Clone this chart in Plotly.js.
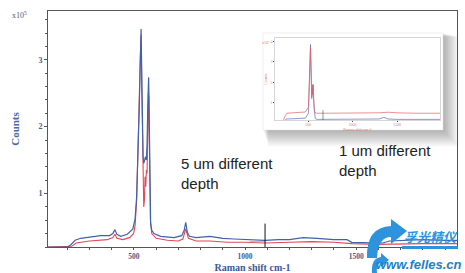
<!DOCTYPE html>
<html><head><meta charset="utf-8">
<script src="https://cdn.plot.ly/plotly-3.0.1.min.js"></script>
<style>html,body{margin:0;padding:0;background:#fff;overflow:hidden}#chart{width:465px;height:273px}</style>
</head><body><div id="chart"></div>
<script>
// ---- main chart data (counts in units of 1e5) ----
const shift5Blue = [113,200,215,235,260,300,350,390,405,414,423,440,470,495,505,512,518,523,528,532,535,538,541,544,548,552,556,559,562,564,566,568,570,572,575,580,590,620,680,715,726,733,740,750,780,842,900,950,1000,1050,1090,1150,1200,1261,1300,1324,1400,1459,1480,1550,1620,1650,1700,1800,1900,1954];
const counts5Blue = [0.2,0.2,0.23,0.3,0.33,0.35,0.37,0.37,0.4,0.46,0.39,0.36,0.39,0.47,0.62,0.95,1.5,2.2,2.9,3.46,2.8,2.0,1.55,1.45,1.5,1.55,1.5,1.75,2.3,2.6,2.74,2.3,1.5,0.9,0.55,0.45,0.4,0.36,0.34,0.37,0.45,0.57,0.42,0.36,0.34,0.36,0.33,0.32,0.31,0.3,0.3,0.31,0.31,0.34,0.34,0.33,0.31,0.31,0.27,0.26,0.26,0.29,0.3,0.31,0.3,0.3];
const shift5Red = [113,205,220,240,300,380,405,414,423,450,480,498,505,512,518,523,528,532,535,538,541,544,547,550,553,556,559,562,565,567,569,571,574,580,600,650,700,720,733,745,780,842,920,1000,1090,1200,1300,1400,1480,1600,1700,1800,1954];
const counts5Red = [0.2,0.2,0.21,0.26,0.29,0.31,0.34,0.39,0.33,0.31,0.34,0.4,0.52,0.9,1.5,2.3,3.0,3.38,2.6,1.7,1.0,0.8,0.9,1.25,1.1,1.35,1.3,2.0,2.5,2.45,1.8,1.1,0.6,0.4,0.33,0.3,0.29,0.32,0.47,0.33,0.29,0.29,0.27,0.27,0.26,0.27,0.28,0.27,0.25,0.24,0.25,0.25,0.25];
const shiftMarker = [1020,1090];
const countsMarker = [0.28,0.28];
const cursorShift = [1090];

// ---- inset (1 um depth) data ----
const shift1Blue = [129,220,240,262,330,400,470,505,515,522,528,532,537,542,550,558,563,570,580,600,700,850,1000,1150,1300,1350,1400,1500,1700,1983];
const counts1Blue = [0.1,0.1,0.15,0.22,0.23,0.24,0.26,0.5,1.5,3.0,3.85,3.2,1.6,1.3,1.5,1.9,1.2,0.5,0.25,0.2,0.2,0.2,0.2,0.21,0.22,0.3,0.22,0.2,0.2,0.2];
const shift1Red = [129,220,240,262,330,400,470,505,515,522,528,532,536,539,542,545,548,552,556,560,565,570,580,600,700,850,1000,1150,1300,1400,1500,1700,1983];
const counts1Red = [0.1,0.1,0.35,0.5,0.52,0.53,0.56,0.8,1.8,3.0,3.7,3.0,1.5,1.9,1.2,1.8,1.4,1.9,1.6,1.7,1.0,0.6,0.52,0.5,0.5,0.5,0.5,0.5,0.52,0.55,0.52,0.5,0.5];
const insetCursor = [668];

const xTickStep = 500, xMinorStep = 100, yTickStep = 1, yMinorStep = 0.2;

// pixel -> paper helpers for decorations
const W=465,H=273,ML=48,MR=8,MT=11,MB=26;
const PW=W-ML-MR, PH=H-MT-MB;
const px = X => (X-ML)/PW;
const py = Y => (H-MB-Y)/PH;

const BLUE='#3f62aa', RED='#de4a55';
const traces = [
  {x:shift5Red,y:counts5Red,type:'scatter',mode:'lines',line:{color:RED,width:1.1},hoverinfo:'skip'},
  {x:shift5Blue,y:counts5Blue,type:'scatter',mode:'lines',line:{color:BLUE,width:1.2},hoverinfo:'skip'},
  {x:shiftMarker,y:countsMarker,type:'scatter',mode:'lines',line:{color:'#f0b040',width:1},hoverinfo:'skip'},
  {x:shift1Blue,y:counts1Blue,xaxis:'x2',yaxis:'y2',type:'scatter',mode:'lines',line:{color:'#5a6fb0',width:0.7},hoverinfo:'skip'},
  {x:shift1Red,y:counts1Red,xaxis:'x2',yaxis:'y2',type:'scatter',mode:'lines',line:{color:'#e0606a',width:0.7},hoverinfo:'skip'}
];

const shapes=[];
// inset drop shadow
for(let i=1;i<=9;i++){
  shapes.push({type:'rect',xref:'paper',yref:'paper',layer:'below',
    x0:px(263+i*0.6),x1:px(443+i*1.7),y0:py(130+i*1.8),y1:py(33+i*0.4),
    line:{width:0},fillcolor:'rgba(0,0,0,0.035)'});
}
shapes.push({type:'rect',xref:'paper',yref:'paper',layer:'below',
  x0:px(263),x1:px(443),y0:py(130),y1:py(33),line:{width:0.5,color:'#ddd'},fillcolor:'#fff'});
// cursor lines
shapes.push({type:'line',xref:'x',yref:'y',x0:cursorShift[0],x1:cursorShift[0],y0:0.2,y1:0.55,line:{color:'#111',width:1}});
shapes.push({type:'line',xref:'x2',yref:'y2',x0:insetCursor[0],x1:insetCursor[0],y0:0.17,y1:0.65,line:{color:'#333',width:0.5}});
// logo
const P=(X,Y)=>px(X).toFixed(4)+','+py(Y).toFixed(4);
shapes.push({type:'path',xref:'paper',yref:'paper',line:{width:0},fillcolor:'#2e93dd',
  path:`M${P(367,258)} Q${P(366,227)} ${P(391,226)} L${P(391,219)} L${P(407,231)} L${P(391,244)} L${P(391,237)} Q${P(378,237)} ${P(377,258)} Z`});
shapes.push({type:'path',xref:'paper',yref:'paper',line:{width:0},fillcolor:'#2e93dd',
  path:`M${P(372,273)} Q${P(371,258)} ${P(381,257)} L${P(381,253)} L${P(389,260)} L${P(381,267)} L${P(381,263)} Q${P(376,263)} ${P(377,273)} Z`});
shapes.push({type:'rect',xref:'paper',yref:'paper',x0:px(402),x1:px(458),y0:py(249),y1:py(246),line:{width:0},fillcolor:'#2e93dd'});

const serif='Liberation Serif, DejaVu Serif, serif';
const annotations=[
  {xref:'paper',yref:'paper',x:px(10),y:py(15),xanchor:'left',yanchor:'middle',showarrow:false,
   text:'x10<sup>5</sup>',font:{family:serif,size:8,color:'#4a5a8a'}},
  {xref:'paper',yref:'paper',x:px(179),y:py(174),xanchor:'left',yanchor:'middle',align:'left',showarrow:false,
   text:'5 um different<br>depth',font:{family:'Liberation Sans, Arial, sans-serif',size:15,color:'#222'}},
  {xref:'paper',yref:'paper',x:px(337),y:py(160),xanchor:'left',yanchor:'middle',align:'left',showarrow:false,
   text:'1 um different<br>depth',font:{family:'Liberation Sans, Arial, sans-serif',size:15,color:'#222'}},
  {xref:'paper',yref:'paper',x:px(431),y:py(236),xanchor:'center',yanchor:'middle',showarrow:false,
   text:'<b><i>孚光精仪</i></b>',font:{family:'Noto Sans CJK SC, sans-serif',size:13,color:'#2e93dd'}},
  {xref:'paper',yref:'paper',x:px(419),y:py(264),xanchor:'center',yanchor:'middle',showarrow:false,
   text:'<b><i>www.felles.cn</i></b>',font:{family:'Liberation Sans, Arial, sans-serif',size:13,color:'#1f7fc8'}},
  {xref:'paper',yref:'paper',x:px(266),y:py(42),xanchor:'center',yanchor:'middle',showarrow:false,
   text:'x10<sup>5</sup>',font:{family:serif,size:4,color:'#c77'}}
];

const layout={
  width:W,height:H,margin:{l:ML,r:MR,t:MT,b:MB},
  paper_bgcolor:'#fff',plot_bgcolor:'rgba(0,0,0,0)',showlegend:false,
  font:{family:serif},
  xaxis:{range:[113,1954],tick0:0,dtick:xTickStep,ticks:'outside',ticklen:2,tickcolor:'#555',
    minor:{dtick:xMinorStep,tick0:0,ticks:'outside',ticklen:2,tickcolor:'#555'},
    showline:true,mirror:true,linecolor:'#555',linewidth:1,showgrid:false,zeroline:false,
    tickfont:{family:serif,size:7.5,color:'#4a5a8a',weight:'bold'},
    title:{text:'Raman shift cm-1',standoff:5,font:{family:serif,size:10,color:'#3b5998',weight:'bold'}}},
  yaxis:{range:[0.2,3.73],tick0:0,dtick:yTickStep,ticks:'outside',ticklen:3,tickcolor:'#555',
    minor:{dtick:yMinorStep,tick0:0,ticks:'outside',ticklen:2,tickcolor:'#555'},
    showline:true,mirror:true,linecolor:'#555',linewidth:1,showgrid:false,zeroline:false,
    tickfont:{family:serif,size:8,color:'#4a5a8a',weight:'bold'},
    title:{text:'Counts',standoff:16,font:{family:serif,size:11,color:'#4a6aaa',weight:'bold'}}},
  xaxis2:{domain:[px(275),px(440)],anchor:'y2',range:[129,1983],dtick:500,tick0:0,ticks:'outside',ticklen:1,
    showline:true,mirror:true,linecolor:'#bbb',linewidth:0.6,showgrid:false,zeroline:false,
    tickfont:{size:4,color:'#c88'},title:{text:'Raman shift cm-1',standoff:0,font:{size:4,color:'#d77'}}},
  yaxis2:{domain:[py(120),py(38)],anchor:'x2',range:[0.17,4.17],dtick:1,tick0:0,ticks:'outside',ticklen:1,
    showline:true,mirror:true,linecolor:'#bbb',linewidth:0.6,showgrid:false,zeroline:false,
    tickfont:{size:4,color:'#c88'},title:{text:'Counts',standoff:2,font:{size:4,color:'#d77'}}},
  shapes:shapes,annotations:annotations
};
Plotly.newPlot('chart',traces,layout,{staticPlot:true,displayModeBar:false});
</script></body></html>
